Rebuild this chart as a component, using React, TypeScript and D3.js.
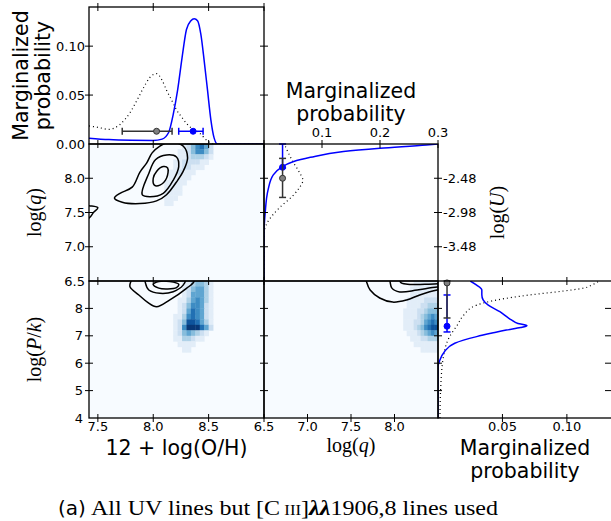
import React from "react";
import * as d3 from "d3";

// ---------- tick values ----------
const ohTicks = [7.5, 8.0, 8.5, 9.0];
const ohTickLabels = [7.5, 8.0, 8.5];
const qTicks = [7.0, 7.5, 8.0];
const qTickLabels = [6.5, 7.0, 7.5, 8.0];
const pkTicks = [5, 6, 7, 8];
const pkTickLabels = [4, 5, 6, 7, 8];
const ohProbTicks = [0.05, 0.1];
const ohProbLabels = [0.0, 0.05, 0.1];
const uProbTicks = [0.1, 0.2, 0.3];
const uTicks = [-2.48, -2.98, -3.48];
const pkProbTicks = [0.05, 0.1];

// ---------- marginal: 12 + log(O/H) ----------
const ohBlueX = [7.42, 7.6, 7.8, 8.0, 8.08, 8.14, 8.18, 8.22, 8.26, 8.3, 8.34, 8.37, 8.4, 8.43, 8.46, 8.49, 8.52, 8.55, 8.58, 8.7, 9.0];
const ohBlueP = [0.006, 0.0045, 0.0038, 0.0036, 0.005, 0.012, 0.03, 0.055, 0.088, 0.117, 0.126, 0.128, 0.126, 0.112, 0.085, 0.055, 0.025, 0.006, 0.0, 0.0, 0.0];
const ohDotX = [7.42, 7.5, 7.6, 7.7, 7.79, 7.85, 7.91, 7.97, 8.03, 8.08, 8.12, 8.17, 8.21, 8.26, 8.3, 8.36, 8.42, 8.49, 8.55, 9.0];
const ohDotP = [0.0185, 0.017, 0.015, 0.02, 0.032, 0.044, 0.057, 0.068, 0.072, 0.065, 0.055, 0.044, 0.035, 0.027, 0.021, 0.015, 0.011, 0.003, 0.0, 0.0];
const ohErrBlue = [8.23, 8.36, 8.45];
const ohErrBlack = [7.72, 8.03, 8.17];
const ohErrLevel = 0.013;

// ---------- marginal: log(U) / log(q) ----------
const uBlueQ = [6.5, 7.2, 7.49, 7.83, 8.05, 8.16, 8.24, 8.305, 8.39, 8.437, 8.485, 8.5];
const uBlueP = [0, 0, 0.002, 0.007, 0.016, 0.03, 0.05, 0.08, 0.137, 0.2, 0.28, 0.3];
const uDotQ = [6.5, 7.2, 7.34, 7.58, 7.73, 7.85, 7.97, 8.1, 8.24, 8.37, 8.5];
const uDotP = [0, 0, 0.005, 0.028, 0.048, 0.06, 0.067, 0.06, 0.05, 0.042, 0.035];
const uErrBlue = [8.15, 8.16, 8.5];
const uErrBlack = [7.72, 8.0, 8.29];
const uErrLevel = 0.032;

// ---------- marginal: log(P/k) ----------
const pkBlueV = [4, 5.9, 6.05, 6.42, 6.73, 6.97, 7.1, 7.21, 7.3, 7.37, 7.45, 7.58, 7.64, 7.88, 8.12, 8.31, 8.5, 8.67, 8.85, 9.0];
const pkBlueP = [0, 0, 0.001, 0.005, 0.013, 0.03, 0.042, 0.053, 0.064, 0.069, 0.062, 0.057, 0.055, 0.048, 0.039, 0.035, 0.034, 0.034, 0.03, 0.025];
const pkDotV = [4, 5.0, 6.18, 6.97, 7.39, 7.76, 8.12, 8.31, 8.49, 8.62, 8.74, 8.87, 9.0];
const pkDotP = [0.0015, 0.002, 0.004, 0.009, 0.015, 0.02, 0.03, 0.046, 0.071, 0.095, 0.113, 0.12, 0.125];
const pkErrBlue = [7.14, 7.35, 8.49];
const pkErrBlack = [7.65, 8.93, 9.0];
const pkErrLevel = 0.007;

// ---------- 2D histograms (digits 0-9 = density) ----------
// O/H vs log(q): columns from 8.06 step 0.04, rows from 8.5 down step 0.075
const ohqX0 = 8.06, ohqDx = 0.04, ohqTop = 8.5, ohqDy = 0.075;
const ohqGrid = [
  "0000012467520",
  "0000112466420",
  "0000112333210",
  "0001122221100",
  "0001122111000",
  "0011211100000",
  "0011111000000",
  "0111110000000",
  "0111100000000",
  "0111100000000",
  "0111000000000",
  "0110000000000",
];
// O/H vs log(P/k): columns from 8.10 step 0.04, rows from 9.0 down step 0.2
const ohpX0 = 8.1, ohpDx = 0.04, ohpTop = 9.0, ohpDy = 0.2;
const ohpGrid = [
  "0000113443100",
  "0000124553100",
  "0000125553100",
  "0001135653100",
  "0001246652100",
  "0001257652100",
  "0011367652100",
  "0012488753100",
  "0012699975200",
  "0012454321000",
  "0011332110000",
  "0001111000000",
  "0000110000000",
];
// log(q) vs log(P/k): columns from 8.02 step 0.04, rows from 9.0 down step 0.2
const qpX0 = 8.02, qpDx = 0.04, qpTop = 9.0, qpDy = 0.2;
const qpGrid = [
  "000001111111",
  "000011111111",
  "000011111111",
  "000111112222",
  "000111122333",
  "001111223444",
  "001111234565",
  "001112235676",
  "001112346788",
  "000111234565",
  "000011122333",
  "000001111111",
  "000000011111",
];

// ---------- contours (x, y) ----------
const ohqOuter = [[7.65, 7.71], [7.7, 7.78], [7.81, 7.87], [7.88, 8.09], [7.94, 8.22], [7.99, 8.37], [8.06, 8.47], [8.15, 8.53], [8.27, 8.47], [8.31, 8.3], [8.27, 8.1], [8.22, 7.97], [8.12, 7.76], [8.03, 7.67], [7.88, 7.63], [7.72, 7.65]];
const ohqMid = [[7.9, 7.76], [7.96, 8.07], [8.02, 8.27], [8.12, 8.34], [8.21, 8.31], [8.23, 8.17], [8.18, 7.97], [8.09, 7.78], [7.97, 7.73]];
const ohqInner = [[8.0, 8.0], [8.03, 8.1], [8.09, 8.17], [8.13, 8.15], [8.12, 8.0], [8.06, 7.9], [8.01, 7.9]];
const ohqEdge = [[7.3, 7.62], [7.42, 7.6], [7.5, 7.57], [7.46, 7.5], [7.42, 7.42], [7.3, 7.4]];
const ohpOuter = [[7.84, 9.3], [7.8, 9.0], [7.79, 8.79], [7.87, 8.49], [7.95, 8.22], [8.03, 8.06], [8.15, 8.31], [8.3, 8.73], [8.37, 9.0], [8.35, 9.3], [8.1, 9.45]];
const ohpMid = [[7.93, 9.2], [7.93, 8.92], [7.96, 8.67], [8.06, 8.55], [8.18, 8.61], [8.27, 8.85], [8.29, 9.05], [8.15, 9.3]];
const ohpInner = [[8.0, 8.87], [8.05, 8.74], [8.13, 8.71], [8.21, 8.76], [8.23, 8.88], [8.15, 8.98], [8.05, 8.98]];
const qpOuter = [[7.66, 9.3], [7.68, 8.96], [7.72, 8.67], [7.83, 8.38], [7.98, 8.23], [8.14, 8.31], [8.29, 8.49], [8.49, 8.67], [8.7, 8.75], [8.7, 9.3]];
const qpMid = [[7.94, 9.3], [7.95, 8.96], [7.97, 8.74], [8.06, 8.6], [8.26, 8.67], [8.49, 8.78], [8.7, 8.8], [8.7, 9.3]];
const qpInner = [[8.08, 9.3], [8.07, 8.95], [8.15, 8.88], [8.35, 8.88], [8.55, 8.9], [8.7, 8.9], [8.7, 9.3]];

const SANS = "'DejaVu Sans', sans-serif";
const SERIF = "'Liberation Serif', 'DejaVu Serif', serif";
const BLUE = "#0000ff";
const TK = 4;

type S = d3.ScaleLinear<number, number>;

function Heat({ grid, x0, dx, top, dy, xs, ys }: any) {
  const cells: any[] = [];
  grid.forEach((row: string, r: number) => {
    row.split("").forEach((ch, c) => {
      const v = +ch;
      if (!v) return;
      const xa = xs(x0 + c * dx), xb = xs(x0 + (c + 1) * dx);
      const ya = ys(top - r * dy), yb = ys(top - (r + 1) * dy);
      cells.push(
        <rect key={r + "-" + c} x={xa} y={ya} width={xb - xa + 0.4} height={yb - ya + 0.4}
          fill={d3.interpolateBlues((v / 9) * 0.97)} />
      );
    });
  });
  return <g>{cells}</g>;
}

function xTickMarks(vals: number[], xs: S, y: number) {
  return vals.map((v, i) => <line key={"xt" + y + i} x1={xs(v)} x2={xs(v)} y1={y - TK} y2={y + TK} stroke="#000" strokeWidth={1} />);
}
function yTickMarks(vals: number[], ys: S, x: number) {
  return vals.map((v, i) => <line key={"yt" + x + i} x1={x - TK} x2={x + TK} y1={ys(v)} y2={ys(v)} stroke="#000" strokeWidth={1} />);
}

function ErrH({ e, y, xs, color, open }: any) {
  const [lo, mid, hi] = e;
  return (
    <g stroke={color} strokeWidth={1.5}>
      <line x1={xs(lo)} x2={xs(hi)} y1={y} y2={y} />
      <line x1={xs(lo)} x2={xs(lo)} y1={y - 3.5} y2={y + 3.5} />
      <line x1={xs(hi)} x2={xs(hi)} y1={y - 3.5} y2={y + 3.5} />
      <circle cx={xs(mid)} cy={y} r={3} fill={open ? "#808080" : color} strokeWidth={1} />
    </g>
  );
}
function ErrV({ e, x, ys, color, open }: any) {
  const [lo, mid, hi] = e;
  return (
    <g stroke={color} strokeWidth={1.5}>
      <line x1={x} x2={x} y1={ys(lo)} y2={ys(hi)} />
      <line x1={x - 3.5} x2={x + 3.5} y1={ys(lo)} y2={ys(lo)} />
      <line x1={x - 3.5} x2={x + 3.5} y1={ys(hi)} y2={ys(hi)} />
      <circle cx={x} cy={ys(mid)} r={3} fill={open ? "#808080" : color} strokeWidth={1} />
    </g>
  );
}

export default function App() {
  const L = 89, C1 = 264, C2 = 438, R = 612;
  const T = 7, R1 = 144, R2 = 281, B = 418;

  const xOH = d3.scaleLinear().domain([7.42, 9.0]).range([L, C1]);
  const xQ = d3.scaleLinear().domain([6.5, 8.5]).range([C1, C2]);
  const xPkP = d3.scaleLinear().domain([0, 0.135]).range([C2, R]);
  const xUP = d3.scaleLinear().domain([0, 0.3]).range([C1, C2]);
  const yOHP = d3.scaleLinear().domain([0, 0.14]).range([R1, T]);
  const yQ = d3.scaleLinear().domain([6.5, 8.5]).range([R2, R1]);
  const yU = d3.scaleLinear().domain([6.5 - 10.48, 8.5 - 10.48]).range([R2, R1]);
  const yPk = d3.scaleLinear().domain([4, 9]).range([B, R2]);

  const lineH = (xsv: number[], ps: number[]) =>
    d3.line<number>().x((_, i) => xOH(xsv[i])).y((d) => yOHP(d)).curve(d3.curveMonotoneX)(ps) || "";
  const lineU = (qs: number[], ps: number[]) =>
    d3.line<number>().x((d) => xUP(d)).y((_, i) => yQ(qs[i])).curve(d3.curveMonotoneY)(ps) || "";
  const linePk = (vs: number[], ps: number[]) =>
    d3.line<number>().x((d) => xPkP(d)).y((_, i) => yPk(vs[i])).curve(d3.curveMonotoneY)(ps) || "";
  const contour = (pts: number[][], xs: S, ys: S) =>
    d3.line<number[]>().x((d) => xs(d[0])).y((d) => ys(d[1])).curve(d3.curveCatmullRomClosed.alpha(0.5))(pts) || "";

  const tickFont = { fontFamily: SANS, fontSize: 13 };
  const bigFont = { fontFamily: SANS, fontSize: 20.5 };

  return (
    <div style={{ position: "absolute", left: 0, top: 0 }}>
      <svg width={611} height={521} style={{ display: "block", background: "#fff" }}>
        <defs>
          <clipPath id="cOH"><rect x={L} y={T} width={C1 - L} height={R1 - T} /></clipPath>
          <clipPath id="cA"><rect x={L} y={R1} width={C1 - L} height={R2 - R1} /></clipPath>
          <clipPath id="cB"><rect x={L} y={R2} width={C1 - L} height={B - R2} /></clipPath>
          <clipPath id="cU"><rect x={C1} y={R1} width={C2 - C1} height={R2 - R1} /></clipPath>
          <clipPath id="cC"><rect x={C1} y={R2} width={C2 - C1} height={B - R2} /></clipPath>
          <clipPath id="cP"><rect x={C2} y={R2} width={R - C2} height={B - R2} /></clipPath>
        </defs>

        {/* 2D panels */}
        <g clipPath="url(#cA)">
          <rect x={L} y={R1} width={C1 - L} height={R2 - R1} fill={d3.interpolateBlues(0)} />
          <Heat grid={ohqGrid} x0={ohqX0} dx={ohqDx} top={ohqTop} dy={ohqDy} xs={xOH} ys={yQ} />
          {[ohqOuter, ohqMid, ohqInner, ohqEdge].map((c, i) => (
            <path key={i} d={contour(c, xOH, yQ)} fill="none" stroke="#000" strokeWidth={1.5} />
          ))}
        </g>
        <g clipPath="url(#cB)">
          <rect x={L} y={R2} width={C1 - L} height={B - R2} fill={d3.interpolateBlues(0)} />
          <Heat grid={ohpGrid} x0={ohpX0} dx={ohpDx} top={ohpTop} dy={ohpDy} xs={xOH} ys={yPk} />
          {[ohpOuter, ohpMid, ohpInner].map((c, i) => (
            <path key={i} d={contour(c, xOH, yPk)} fill="none" stroke="#000" strokeWidth={1.5} />
          ))}
        </g>
        <g clipPath="url(#cC)">
          <rect x={C1} y={R2} width={C2 - C1} height={B - R2} fill={d3.interpolateBlues(0)} />
          <Heat grid={qpGrid} x0={qpX0} dx={qpDx} top={qpTop} dy={qpDy} xs={xQ} ys={yPk} />
          {[qpOuter, qpMid, qpInner].map((c, i) => (
            <path key={i} d={contour(c, xQ, yPk)} fill="none" stroke="#000" strokeWidth={1.5} />
          ))}
        </g>

        {/* marginal O/H */}
        <g clipPath="url(#cOH)">
          <path d={lineH(ohDotX, ohDotP)} fill="none" stroke="#000" strokeWidth={1.2} strokeDasharray="1,3" />
          <path d={lineH(ohBlueX, ohBlueP)} fill="none" stroke={BLUE} strokeWidth={1.5} />
        </g>
        <ErrH e={ohErrBlack} y={yOHP(ohErrLevel)} xs={xOH} color="#333" open />
        <ErrH e={ohErrBlue} y={yOHP(ohErrLevel)} xs={xOH} color={BLUE} />

        {/* marginal log U */}
        <g clipPath="url(#cU)">
          <path d={lineU(uDotQ, uDotP)} fill="none" stroke="#000" strokeWidth={1.2} strokeDasharray="1,3" />
          <path d={lineU(uBlueQ, uBlueP)} fill="none" stroke={BLUE} strokeWidth={1.5} />
        </g>
        <ErrV e={uErrBlue} x={xUP(uErrLevel)} ys={yQ} color={BLUE} />
        <ErrV e={uErrBlack} x={xUP(uErrLevel)} ys={yQ} color="#333" open />

        {/* marginal P/k */}
        <g clipPath="url(#cP)">
          <path d={linePk(pkDotV, pkDotP)} fill="none" stroke="#000" strokeWidth={1.2} strokeDasharray="1,3" />
          <path d={linePk(pkBlueV, pkBlueP)} fill="none" stroke={BLUE} strokeWidth={1.5} />
        </g>
        <ErrV e={pkErrBlue} x={xPkP(pkErrLevel)} ys={yPk} color={BLUE} />
        <ErrV e={pkErrBlack} x={xPkP(pkErrLevel)} ys={yPk} color="#333" open />

        {/* frames */}
        <g fill="none" stroke="#000" strokeWidth={1.3}>
          <rect x={L} y={T} width={C1 - L} height={R1 - T} />
          <rect x={L} y={R1} width={C1 - L} height={R2 - R1} />
          <rect x={L} y={R2} width={C1 - L} height={B - R2} />
          <rect x={C1} y={R1} width={C2 - C1} height={R2 - R1} />
          <rect x={C1} y={R2} width={C2 - C1} height={B - R2} />
          <rect x={C2} y={R2} width={R - C2 + 2} height={B - R2} />
        </g>

        {/* tick marks */}
        <g>
          {xTickMarks(ohTicks, xOH, T)}
          {xTickMarks(ohTicks, xOH, R1)}
          {xTickMarks(ohTicks, xOH, R2)}
          {xTickMarks(ohTicks, xOH, B)}
          {yTickMarks(ohProbTicks, yOHP, L)}
          {yTickMarks(ohProbTicks, yOHP, C1)}
          {yTickMarks(qTicks, yQ, L)}
          {yTickMarks(qTicks, yQ, C1)}
          {yTickMarks(uTicks, yU, C2)}
          {yTickMarks(pkTicks, yPk, L)}
          {yTickMarks(pkTicks, yPk, C1)}
          {yTickMarks(pkTicks, yPk, C2)}
          {yTickMarks(pkTicks, yPk, R - 3)}
          {xTickMarks(uProbTicks, xUP, R1)}
          {xTickMarks(qTicks, xQ, B)}
          {xTickMarks(pkProbTicks, xPkP, R2)}
          {xTickMarks(pkProbTicks, xPkP, B)}
        </g>

        {/* tick labels */}
        <g {...tickFont} fill="#000">
          {ohProbLabels.map((v) => (
            <text key={"op" + v} x={L - 4} y={yOHP(v)} dy="0.36em" textAnchor="end">{v.toFixed(2)}</text>
          ))}
          {qTickLabels.map((v) => (
            <text key={"q" + v} x={L - 4} y={yQ(v)} dy="0.36em" textAnchor="end">{v.toFixed(1)}</text>
          ))}
          {pkTickLabels.map((v) => (
            <text key={"p" + v} x={L - 6} y={yPk(v)} dy="0.36em" textAnchor="end">{v}</text>
          ))}
          {ohTickLabels.map((v) => (
            <text key={"ox" + v} x={xOH(v)} y={431} textAnchor="middle">{v.toFixed(1)}</text>
          ))}
          {qTickLabels.map((v) => (
            <text key={"qx" + v} x={xQ(v)} y={431} textAnchor="middle">{v.toFixed(1)}</text>
          ))}
          {pkProbTicks.map((v) => (
            <text key={"px" + v} x={xPkP(v)} y={431} textAnchor="middle">{v.toFixed(2)}</text>
          ))}
          {uProbTicks.map((v) => (
            <text key={"ux" + v} x={xUP(v)} y={137} textAnchor="middle">{v.toFixed(1)}</text>
          ))}
          {uTicks.map((v) => (
            <text key={"u" + v} x={C2 + 5} y={yU(v)} dy="0.36em" textAnchor="start">{"-" + Math.abs(v).toFixed(2)}</text>
          ))}
        </g>

        {/* axis titles */}
        <g {...bigFont} fill="#000" textAnchor="middle">
          <text transform={`translate(28,${(T + R1) / 2}) rotate(-90)`}>Marginalized</text>
          <text transform={`translate(50,${(T + R1) / 2}) rotate(-90)`}>probability</text>
          <text x={(C1 + C2) / 2} y={98}>Marginalized</text>
          <text x={(C1 + C2) / 2} y={121}>probability</text>
          <text x={(C2 + R) / 2} y={455}>Marginalized</text>
          <text x={(C2 + R) / 2} y={478}>probability</text>
          <text x={(L + C1) / 2} y={455}>12 + log(O/H)</text>
        </g>
        <g fontFamily={SERIF} fontSize={20} fill="#000" textAnchor="middle">
          <text x={(C1 + C2) / 2} y={452}>log(<tspan fontStyle="italic">q</tspan>)</text>
          <text transform={`translate(41,${(R1 + R2) / 2}) rotate(-90)`}>log(<tspan fontStyle="italic">q</tspan>)</text>
          <text transform={`translate(41,${(R2 + B) / 2}) rotate(-90)`}>log(<tspan fontStyle="italic">P</tspan>/<tspan fontStyle="italic">k</tspan>)</text>
          <text transform={`translate(504,${(R1 + R2) / 2}) rotate(-90)`}>log(<tspan fontStyle="italic">U</tspan>)</text>
        </g>

        {/* caption */}
        <text x={58} y={515} fill="#000" fontFamily={SANS} fontSize={20}>(a)</text>
        <text x={91} y={515} fill="#000" fontFamily={SERIF} fontSize={21.5} textLength={407} lengthAdjust="spacingAndGlyphs">
          All UV lines but [C<tspan fontSize={15}> III</tspan>]<tspan fontStyle="italic" fontWeight="bold">λλ</tspan>1906,8 lines used
        </text>
      </svg>
    </div>
  );
}
